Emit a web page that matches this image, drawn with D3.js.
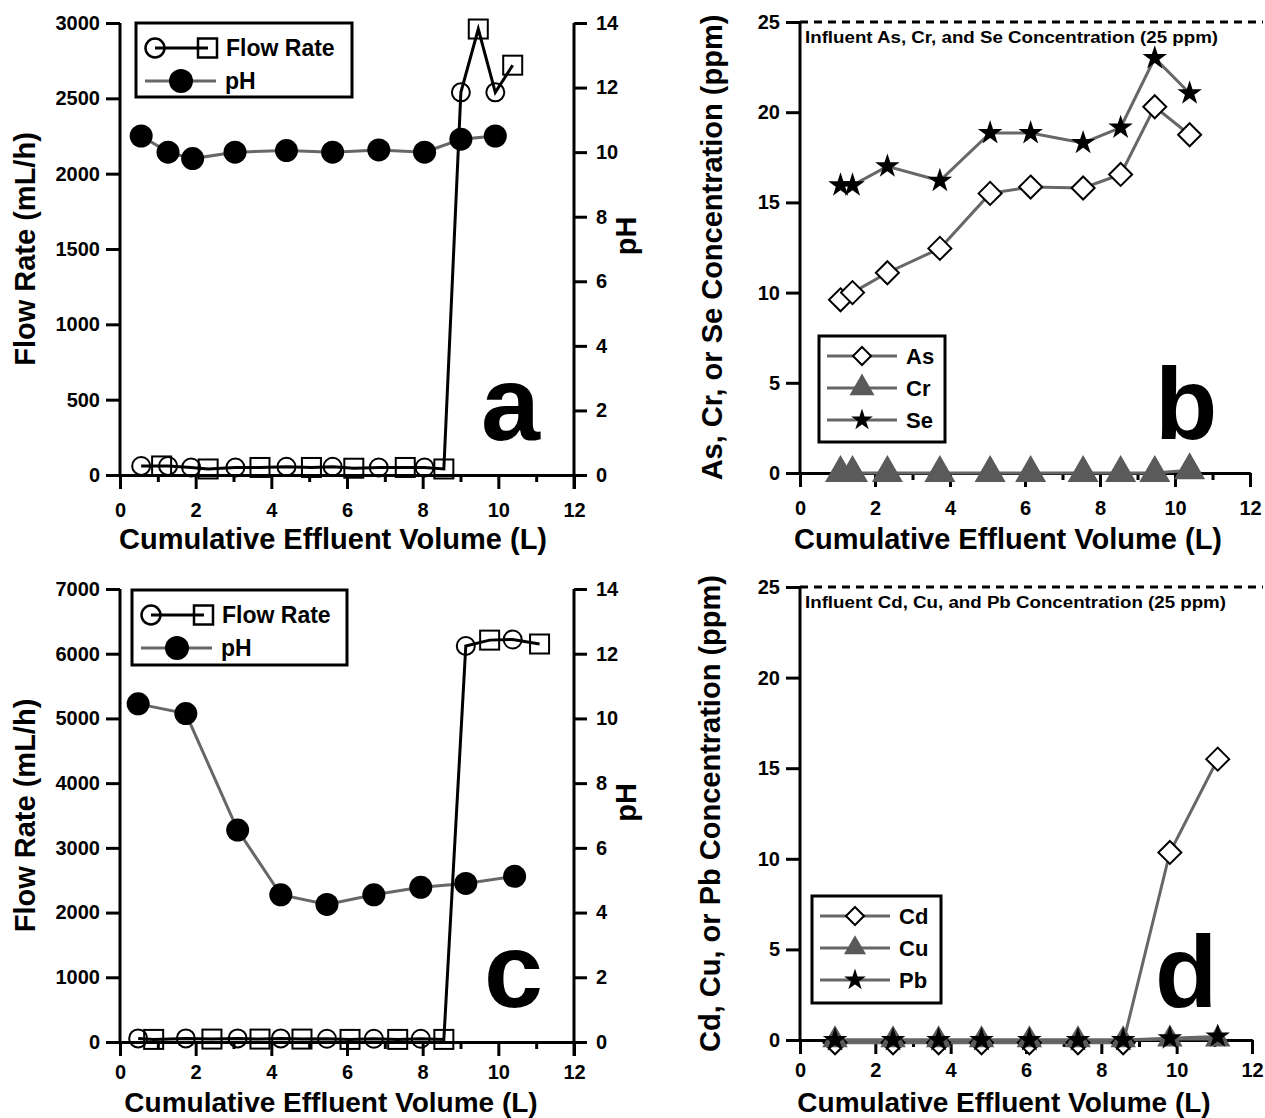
<!DOCTYPE html>
<html>
<head>
<meta charset="utf-8">
<script src="https://cdn.jsdelivr.net/npm/d3@7"></script>
<style>
  body { margin: 0; background: #fff; }
  text { font-family: "Liberation Sans", Arial, Helvetica, sans-serif; font-weight: bold; }
</style>
</head>
<body>
<svg id="fig" width="1265" height="1118"></svg>
<script>
// ---- data ----
const xTicks = [0, 2, 4, 6, 8, 10, 12];
const xMinor = [1, 3, 5, 7, 9, 11];

// panel a: flow rate (open circles / open squares) and pH
const aFlowCircX = [0.56, 1.27, 1.88, 3.05, 4.40, 5.62, 6.84, 8.05, 9.01, 9.92];
const aFlowCircY = [60, 60, 50, 50, 55, 55, 50, 50, 2540, 2540];
const aFlowSqX = [1.10, 2.33, 3.70, 5.06, 6.18, 7.54, 8.56, 9.47, 10.38];
const aFlowSqY = [60, 40, 50, 50, 45, 50, 40, 2960, 2720];
const aPhX = [0.56, 1.27, 1.92, 3.04, 4.40, 5.62, 6.84, 8.05, 9.01, 9.92];
const aPh = [10.5, 10.0, 9.8, 10.0, 10.05, 10.0, 10.07, 10.0, 10.4, 10.5];

// panel b: As, Cr, Se effluent concentration (ppm)
const bX = [1.08, 1.40, 2.33, 3.73, 5.07, 6.15, 7.55, 8.55, 9.46, 10.39];
const bAs = [9.6, 10.0, 11.1, 12.45, 15.5, 15.85, 15.8, 16.55, 20.3, 18.75];
const bCr = [0, 0, 0, 0, 0, 0, 0, 0, 0, 0.15];
const bSe = [15.95, 15.95, 17.0, 16.2, 18.85, 18.85, 18.3, 19.15, 23.0, 21.05];

// panel c: flow rate and pH
const cFlowCircX = [0.48, 1.74, 3.11, 4.25, 5.47, 6.71, 7.95, 9.14, 10.38];
const cFlowCircY = [55, 55, 55, 55, 50, 50, 50, 6120, 6220];
const cFlowSqX = [0.89, 2.43, 3.70, 4.81, 6.08, 7.34, 8.56, 9.77, 11.09];
const cFlowSqY = [40, 45, 45, 45, 40, 40, 40, 6210, 6150];
const cPhX = [0.48, 1.74, 3.11, 4.25, 5.47, 6.71, 7.95, 9.14, 10.43];
const cPh = [10.45, 10.15, 6.55, 4.55, 4.25, 4.55, 4.78, 4.9, 5.12];

// panel d: Cd, Cu, Pb effluent concentration (ppm)
const dX = [0.93, 2.47, 3.68, 4.82, 6.09, 7.38, 8.58, 9.82, 11.09];
const dCd = [-0.15, -0.15, -0.15, -0.15, -0.15, -0.15, -0.15, 10.35, 15.5];
const dCu = [0, 0, 0, 0, 0, 0, 0, 0.05, 0.05];
const dPb = [0, 0, 0, 0, 0, 0, 0, 0.1, 0.2];

// ---- drawing ----
const svg = d3.select("#fig");
const GRAY = "#676767";
const TRI = "#5a5a5a";
const fmt = d3.format("d");

function styleAxis(g, size = 20) {
  g.attr("font-size", size).attr("font-family", null);
  g.selectAll("path, line").attr("stroke", "#000").attr("stroke-width", 3);
  g.selectAll("text").attr("fill", "#000");
}

function diamond(h) {
  return `M0,${-h}L${h},0L0,${h}L${-h},0Z`;
}

function makePanel(p) {
  const x = d3.scaleLinear().domain([0, 12]).range([p.left, p.right]);
  const y = d3.scaleLinear().domain([0, p.yMax]).range([p.bottom, p.top]);
  const g = svg.append("g");

  const minor = g.append("g").attr("transform", `translate(0,${p.bottom})`)
    .call(d3.axisBottom(x).tickValues(xMinor).tickSize(7).tickFormat("").tickSizeOuter(0));
  styleAxis(minor);
  const xa = g.append("g").attr("transform", `translate(0,${p.bottom})`)
    .call(d3.axisBottom(x).tickValues(xTicks).tickFormat(fmt).tickSize(14).tickPadding(p.xPad).tickSizeOuter(0));
  styleAxis(xa);
  const ya = g.append("g").attr("transform", `translate(${p.left},0)`)
    .call(d3.axisLeft(y).tickValues(d3.range(0, p.yMax + 1, p.yStep)).tickFormat(fmt)
      .tickSize(14).tickPadding(6).tickSizeOuter(0));
  styleAxis(ya);
  ya.select(".domain").attr("d", `M0,${p.bottom + 1.5}V${p.top}`);

  g.append("text").attr("x", p.xTitleX).attr("y", p.xTitleY).attr("text-anchor", "middle")
    .attr("font-size", p.xTitleSize).text("Cumulative Effluent Volume (L)");
  g.append("text").attr("transform", `translate(${p.yTitleX},${(p.top + p.bottom) / 2}) rotate(-90)`)
    .attr("text-anchor", "middle").attr("dy", "0.35em").attr("font-size", 29).text(p.yTitle);

  g.append("text").attr("x", p.letterX).attr("y", p.letterY)
    .attr("font-size", p.letterSize).text(p.letter);
  return { g, x, y };
}

function flowPanel(p, circX, circY, sqX, sqY, phX, ph) {
  const { g, x, y } = makePanel(p);
  const yPh = d3.scaleLinear().domain([0, 14]).range([p.bottom, p.top]);
  const ra = g.append("g").attr("transform", `translate(${p.right},0)`)
    .call(d3.axisRight(yPh).tickValues(d3.range(0, 15, 2)).tickFormat(fmt)
      .tickSize(13).tickPadding(9).tickSizeOuter(0));
  styleAxis(ra);
  ra.select(".domain").attr("d", `M0,${p.bottom + 14}V${p.top}`);
  g.append("text").attr("transform", `translate(${p.right + 52},${(p.top + p.bottom) / 2 - 13}) rotate(-90)`)
    .attr("text-anchor", "middle").attr("dy", "0.35em").attr("font-size", 29).text("pH");

  const pts = circX.map((v, i) => ({ x: v, y: circY[i], s: "c" }))
    .concat(sqX.map((v, i) => ({ x: v, y: sqY[i], s: "s" })))
    .sort((a, b) => a.x - b.x);
  const phPts = phX.map((v, i) => ({ x: v, y: ph[i] }));

  g.append("path").datum(phPts).attr("fill", "none").attr("stroke", GRAY).attr("stroke-width", 3)
    .attr("d", d3.line().x(d => x(d.x)).y(d => yPh(d.y)));
  g.selectAll(null).data(phPts).join("circle")
    .attr("cx", d => x(d.x)).attr("cy", d => yPh(d.y)).attr("r", 11.5).attr("fill", "#000");

  g.append("path").datum(pts).attr("fill", "none").attr("stroke", "#000").attr("stroke-width", 3)
    .attr("d", d3.line().x(d => x(d.x)).y(d => y(d.y)));
  g.selectAll(null).data(pts.filter(d => d.s === "c")).join("circle")
    .attr("cx", d => x(d.x)).attr("cy", d => y(d.y)).attr("r", 9)
    .attr("fill", "none").attr("stroke", "#000").attr("stroke-width", 2);
  g.selectAll(null).data(pts.filter(d => d.s === "s")).join("rect")
    .attr("x", d => x(d.x) - 9.5).attr("y", d => y(d.y) - 9.5).attr("width", 19).attr("height", 19)
    .attr("fill", "none").attr("stroke", "#000").attr("stroke-width", 2);

  // legend
  const L = p.legend;
  g.append("rect").attr("x", L.x).attr("y", L.y).attr("width", L.w).attr("height", L.h)
    .attr("fill", "none").attr("stroke", "#000").attr("stroke-width", 3);
  const r1 = L.y + 25, r2 = L.y + 58;
  g.append("line").attr("x1", L.x + 19).attr("x2", L.x + 72).attr("y1", r1).attr("y2", r1)
    .attr("stroke", "#000").attr("stroke-width", 3);
  g.append("circle").attr("cx", L.x + 19).attr("cy", r1).attr("r", 9.5)
    .attr("fill", "none").attr("stroke", "#000").attr("stroke-width", 2.5);
  g.append("rect").attr("x", L.x + 62).attr("y", r1 - 9.5).attr("width", 19).attr("height", 19)
    .attr("fill", "none").attr("stroke", "#000").attr("stroke-width", 2.5);
  g.append("text").attr("x", L.x + 90).attr("y", r1).attr("dy", "0.36em").attr("font-size", 23).text("Flow Rate");
  g.append("line").attr("x1", L.x + 9).attr("x2", L.x + 80).attr("y1", r2).attr("y2", r2)
    .attr("stroke", GRAY).attr("stroke-width", 3);
  g.append("circle").attr("cx", L.x + 45).attr("cy", r2).attr("r", 12).attr("fill", "#000");
  g.append("text").attr("x", L.x + 89).attr("y", r2).attr("dy", "0.36em").attr("font-size", 23).text("pH");
}

function concPanel(p, xs, series, influent) {
  const { g, x, y } = makePanel(p);
  g.append("line").attr("x1", p.left).attr("x2", 1263).attr("y1", y(25)).attr("y2", y(25))
    .attr("stroke", "#000").attr("stroke-width", 3).attr("stroke-dasharray", "8,6");
  g.append("text").attr("x", p.left + 5).attr("y", y(25) + 21).attr("font-size", 16)
    .attr("textLength", p.infW).attr("lengthAdjust", "spacingAndGlyphs").text(influent);

  const shape = {
    diamond: s => diamond(s),
    triangle: s => d3.symbol(d3.symbolTriangle, s)(),
    star: s => d3.symbol(d3.symbolStar, s)()
  };
  series.forEach(se => {
    const pts = xs.map((v, i) => ({ x: v, y: se.values[i] }));
    g.append("path").datum(pts).attr("fill", "none").attr("stroke", GRAY).attr("stroke-width", 3)
      .attr("d", d3.line().x(d => x(d.x)).y(d => y(d.y)));
  });
  series.forEach(se => {
    const pts = xs.map((v, i) => ({ x: v, y: se.values[i] }));
    g.selectAll(null).data(pts).join("path")
      .attr("transform", d => `translate(${x(d.x)},${y(d.y)})`)
      .attr("d", shape[se.shape](se.size))
      .attr("fill", se.fill).attr("stroke", se.stroke).attr("stroke-width", 2);
  });

  // legend
  const L = p.legend;
  g.append("rect").attr("x", L.x).attr("y", L.y).attr("width", L.w).attr("height", L.h)
    .attr("fill", "none").attr("stroke", "#000").attr("stroke-width", 3);
  series.forEach((se, i) => {
    const ry = L.y + 20 + i * 32;
    g.append("line").attr("x1", L.x + 8).attr("x2", L.x + 78).attr("y1", ry).attr("y2", ry)
      .attr("stroke", GRAY).attr("stroke-width", 3);
    g.append("path").attr("transform", `translate(${L.x + 43},${ry})`)
      .attr("d", shape[se.shape](se.legendSize))
      .attr("fill", se.fill).attr("stroke", se.stroke).attr("stroke-width", 2);
    g.append("text").attr("x", L.x + 87).attr("y", ry).attr("dy", "0.36em").attr("font-size", 22).text(se.name);
  });
}

flowPanel({
  left: 120, right: 574, top: 23, bottom: 475, yMax: 3000, yStep: 500, xPad: 14,
  yTitle: "Flow Rate (mL/h)", yTitleX: 25, xTitleX: 333, xTitleY: 549, xTitleSize: 29,
  letter: "a", letterX: 481, letterY: 440, letterSize: 106,
  legend: { x: 136, y: 23, w: 216, h: 74 }
}, aFlowCircX, aFlowCircY, aFlowSqX, aFlowSqY, aPhX, aPh);

flowPanel({
  left: 120, right: 574, top: 589, bottom: 1042, yMax: 7000, yStep: 1000, xPad: 9,
  yTitle: "Flow Rate (mL/h)", yTitleX: 25, xTitleX: 331, xTitleY: 1112, xTitleSize: 28,
  letter: "c", letterX: 484, letterY: 1007, letterSize: 106,
  legend: { x: 132, y: 590, w: 215, h: 75 }
}, cFlowCircX, cFlowCircY, cFlowSqX, cFlowSqY, cPhX, cPh);

concPanel({
  left: 800, right: 1250, top: 22, bottom: 473, yMax: 25, yStep: 5, xPad: 14,
  yTitle: "As, Cr, or Se Concentration (ppm)", yTitleX: 712, xTitleX: 1008, xTitleY: 549, xTitleSize: 29,
  letter: "b", letterX: 1155, letterY: 439, letterSize: 102, infW: 413,
  legend: { x: 819, y: 336, w: 126, h: 106 }
}, bX, [
  { name: "As", values: bAs, shape: "diamond", size: 11.5, legendSize: 9, fill: "#fff", stroke: "#000" },
  { name: "Cr", values: bCr, shape: "triangle", size: 330, legendSize: 200, fill: TRI, stroke: TRI },
  { name: "Se", values: bSe, shape: "star", size: 105, legendSize: 75, fill: "#000", stroke: "#000" }
], "Influent As, Cr, and Se Concentration (25 ppm)");

concPanel({
  left: 800, right: 1252, top: 587, bottom: 1040, yMax: 25, yStep: 5, xPad: 9,
  yTitle: "Cd, Cu, or Pb Concentration (ppm)", yTitleX: 710, xTitleX: 1004, xTitleY: 1112, xTitleSize: 28,
  letter: "d", letterX: 1155, letterY: 1007, letterSize: 102, infW: 421,
  legend: { x: 812, y: 896, w: 129, h: 107 }
}, dX, [
  { name: "Cd", values: dCd, shape: "diamond", size: 11.5, legendSize: 9, fill: "#fff", stroke: "#000" },
  { name: "Cu", values: dCu, shape: "triangle", size: 210, legendSize: 150, fill: TRI, stroke: TRI },
  { name: "Pb", values: dPb, shape: "star", size: 105, legendSize: 75, fill: "#000", stroke: "#000" }
], "Influent Cd, Cu, and Pb Concentration (25 ppm)");
</script>
</body>
</html>
